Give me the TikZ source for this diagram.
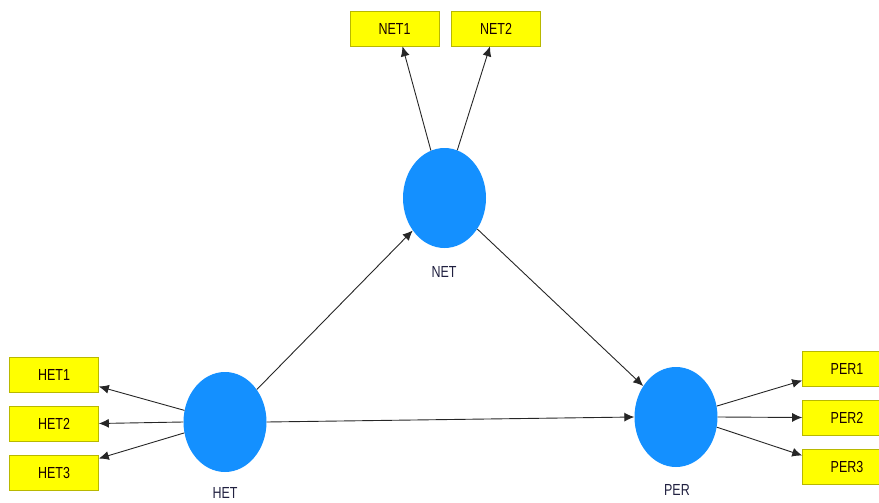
\documentclass[tikz,border=0pt]{standalone}
\usepackage{fontspec}
\setmainfont{Liberation Sans}[FakeStretch=0.78]
\usetikzlibrary{arrows.meta,shapes.geometric}
\definecolor{lvblue}{HTML}{1490FF}
\definecolor{indyel}{HTML}{FFFF00}
\definecolor{indbrd}{HTML}{B8B800}
\definecolor{lbl}{HTML}{202040}
\begin{document}
\begin{tikzpicture}[x=1pt,y=-1pt,
  lv/.style={ellipse,fill=lvblue,draw=none,minimum width=83pt,minimum height=100pt,inner sep=0pt},
  ind/.style={rectangle,fill=indyel,draw=indbrd,line width=0.6pt,minimum width=89pt,minimum height=35pt,inner sep=0pt,font=\fontsize{16}{18}\selectfont,text=black!90!red},
  lvlabel/.style={font=\fontsize{16}{18}\selectfont,text=lbl,inner sep=0pt},
  link/.style={draw=black!85,line width=0.9pt,-{Latex[length=10pt,width=9pt]}}
]
\useasboundingbox (0,0) rectangle (879,503);
% latent variables
\node[lv] (NET) at (444.5,198) {};
\node[lv] (HET) at (225,422) {};
\node[lv] (PER) at (676,417) {};
% labels
\node[lvlabel] (NETl) at (444,272) {NET};
\node[lvlabel] (HETl) at (225,493) {HET};
\node[lvlabel] (PERl) at (677,490) {PER};
% indicators
\node[ind] (NET1) at (394.5,28.5) {NET1};
\node[ind] (NET2) at (496,28.5) {NET2};
\node[ind] (HET1) at (54,374.5) {HET1};
\node[ind] (HET2) at (54,423.5) {HET2};
\node[ind] (HET3) at (54,472.5) {HET3};
\node[ind] (PER1) at (847,368.5) {PER1};
\node[ind] (PER2) at (847,417.5) {PER2};
\node[ind] (PER3) at (847,466.5) {PER3};
% outer model arrows
\draw[link] (NET.106) -- ([xshift=8pt]NET1.south);
\draw[link] (NET.75) -- ([xshift=-6pt]NET2.south);
\draw[link] (HET.164) -- ([yshift=-12pt]HET1.east);
\draw[link] (HET.180) -- (HET2.east);
\draw[link] (HET.195) -- ([yshift=14pt]HET3.east);
\draw[link] (PER.15) -- ([yshift=-12pt]PER1.west);
\draw[link] (PER.0) -- (PER2.west);
\draw[link] (PER.-14) -- ([yshift=11pt]PER3.west);
% inner model arrows
\draw[link] (HET) -- (NET);
\draw[link] (HET.east) -- (PER.west);
\draw[link] (NET) -- (PER);
\end{tikzpicture}
\end{document}
